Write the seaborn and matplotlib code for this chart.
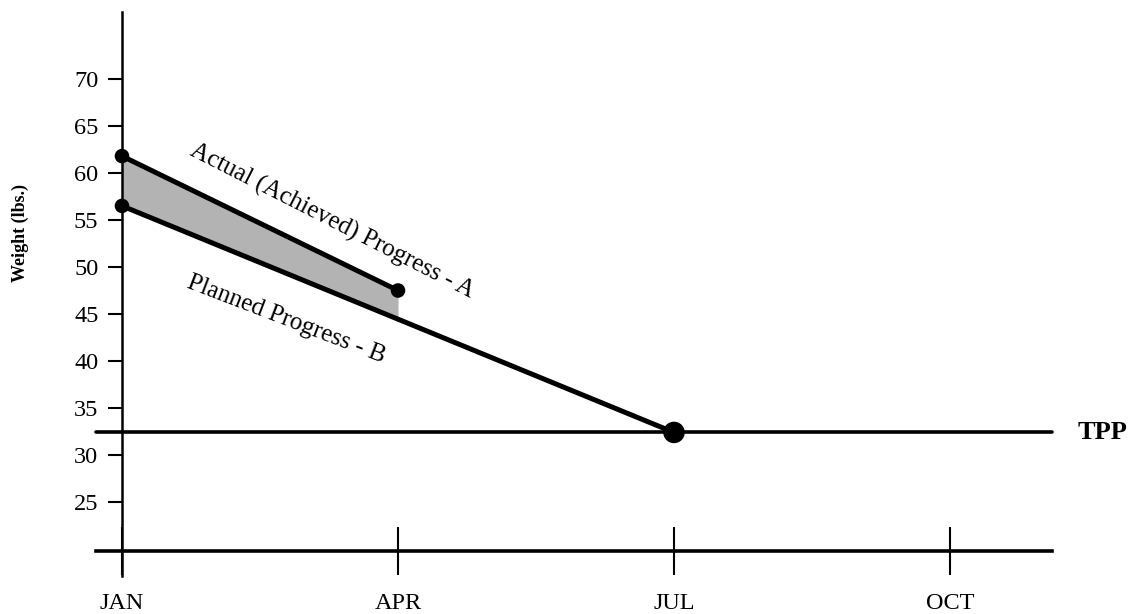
import numpy as np
import seaborn as sns
from matplotlib import pyplot as plt

# chart data
months = ['JAN', 'APR', 'JUL', 'OCT']
month_pos = [0, 3, 6, 9]
weight_ticks = [25, 30, 35, 40, 45, 50, 55, 60, 65, 70]

actual_x = [0, 3]
actual_w = [61.8, 47.5]
planned_x = [0, 6]
planned_w = [56.5, 32.4]
tpp_w = 32.4


def main():
    sns.set_theme(style='white')
    plt.rcParams['font.family'] = ['Liberation Serif', 'DejaVu Serif']
    plt.rcParams['text.color'] = 'black'

    W, H = 1131, 614
    fig = plt.figure(figsize=(W / 100, H / 100), dpi=100)
    ax = fig.add_axes([0, 0, 1, 1])

    # pixel layout of the reference: JAN at x=122, 92 px per month; 30 lbs at y=455, 9.4 px per lb
    x0, px_month = 122, 92
    y30, px_lb = 455, 9.4
    ax.set_xlim(-x0 / px_month, (W - x0) / px_month)
    ax.set_ylim(30 - (H - y30) / px_lb, 30 + y30 / px_lb)

    # shaded gap between actual and planned
    fill_x = np.linspace(actual_x[0], actual_x[-1], 50)
    ax.fill_between(fill_x, np.interp(fill_x, planned_x, planned_w),
                    np.interp(fill_x, actual_x, actual_w),
                    color='#b3b3b3', linewidth=0, zorder=1)

    # target line
    ax.axhline(tpp_w, xmin=96 / W, xmax=1052 / W, color='black', linewidth=2.6, zorder=2)

    sns.lineplot(x=actual_x, y=actual_w, ax=ax, color='black', linewidth=3.6, zorder=3)
    sns.lineplot(x=planned_x, y=planned_w, ax=ax, color='black', linewidth=3.6, zorder=3)
    sns.scatterplot(x=[actual_x[0], actual_x[1], planned_x[0]],
                    y=[actual_w[0], actual_w[1], planned_w[0]],
                    ax=ax, color='black', s=110, edgecolor='none', zorder=4)
    sns.scatterplot(x=[planned_x[1]], y=[planned_w[1]], ax=ax, color='black',
                    s=240, edgecolor='none', zorder=4)

    # axes drawn like the original: y axis through JAN, time axis near 20 lbs
    for s in ['top', 'right']:
        ax.spines[s].set_visible(False)
    ax.spines['left'].set_position(('data', 0))
    ax.spines['left'].set_bounds(30 - (576 - y30) / px_lb, 30 + (y30 - 12) / px_lb)
    ax.spines['left'].set_linewidth(1.8)
    ax.spines['bottom'].set_position(('data', 30 - (551 - y30) / px_lb))
    ax.spines['bottom'].set_bounds((96 - x0) / px_month, (1052 - x0) / px_month)
    ax.spines['bottom'].set_linewidth(2.6)
    for s in ['left', 'bottom']:
        ax.spines[s].set_color('black')

    ax.set_yticks(weight_ticks)
    ax.set_yticklabels([str(t) for t in weight_ticks])
    ax.set_xticks(month_pos)
    ax.set_xticklabels(months)
    ax.tick_params(axis='y', direction='out', length=10, width=1.5, color='black',
                   pad=7, labelsize=17.5, labelcolor='black', left=True)
    ax.tick_params(axis='x', direction='inout', length=34, width=1.5, color='black',
                   pad=13, labelsize=17.5, labelcolor='black', bottom=True)
    ax.grid(False)

    ax.text(0.0177, 1 - 233 / H, 'Weight (lbs.)', transform=ax.transAxes, rotation=90,
            ha='center', va='center', fontsize=13, fontweight='bold', color='black')
    ax.text((1103 - x0) / px_month, tpp_w, 'TPP', ha='center', va='center',
            fontsize=19, fontweight='bold', color='black')
    ax.text(2.28, 54.9, 'Actual (Achieved) Progress - A', rotation=-27,
            rotation_mode='anchor', ha='center', va='center', fontsize=18, color='black')
    ax.text(1.78, 44.4, 'Planned Progress - B', rotation=-21,
            rotation_mode='anchor', ha='center', va='center', fontsize=18, color='black')

    fig.savefig('out.png', dpi=100, facecolor='white')


if __name__ == '__main__':
    main()
